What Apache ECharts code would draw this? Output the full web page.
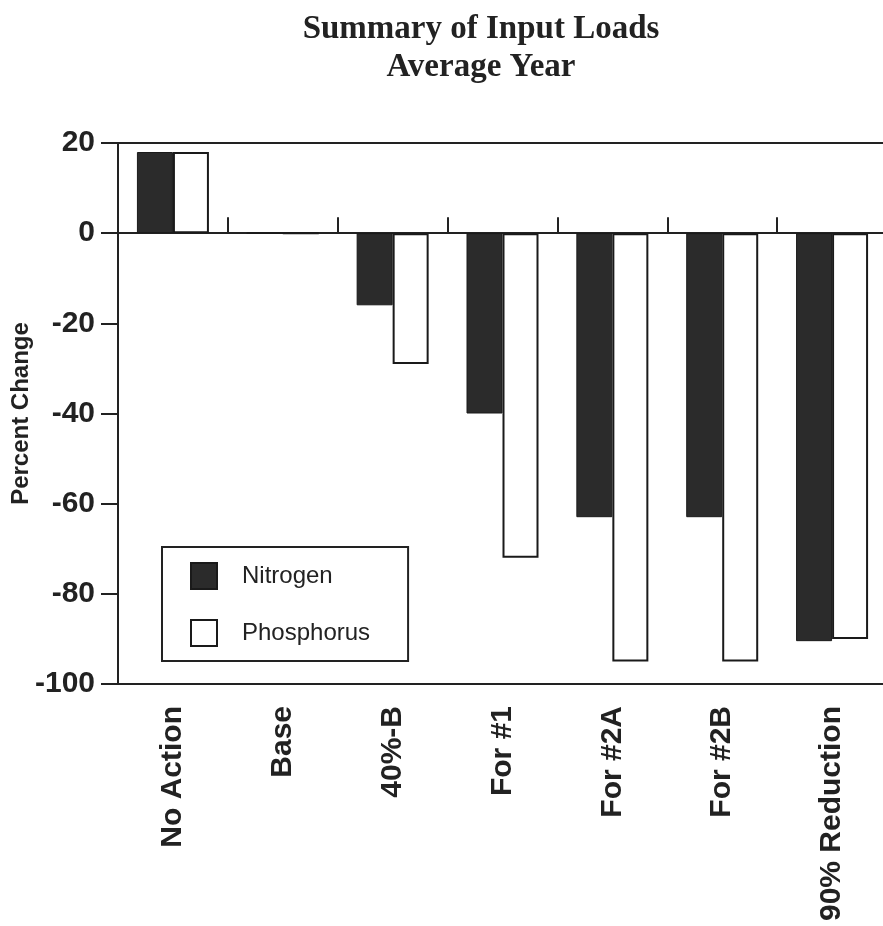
<!DOCTYPE html>
<html>
<head>
<meta charset="utf-8">
<script src="https://cdn.jsdelivr.net/npm/echarts@6/dist/echarts.min.js"></script>
<style>
html,body{margin:0;padding:0;background:#fff;}
#chart{width:883px;height:926px;}
</style>
</head>
<body>
<div id="chart"></div>
<script>
var categories = ['No Action', 'Base', '40%-B', 'For #1', 'For #2A', 'For #2B', '90% Reduction'];
var nitrogen = [18, 0, -16, -40, -63, -63, -90.5];
var phosphorus = [18, 0, -29, -72, -95, -95, -90];
var yTicks = {min: -100, max: 20, interval: 20};

var chart = echarts.init(document.getElementById('chart'), null, {renderer: 'canvas'});
var ink = '#222';
var sans = 'Liberation Sans, Arial, Helvetica, sans-serif';

chart.setOption({
  backgroundColor: '#fff',
  animation: false,
  title: {
    text: 'Summary of Input Loads\nAverage Year',
    left: 476,
    top: 5,
    textAlign: 'center',
    textStyle: {
      fontFamily: 'Liberation Serif, Times New Roman, serif',
      fontWeight: 'bold',
      fontSize: 33,
      lineHeight: 38,
      color: ink
    }
  },
  legend: {
    orient: 'vertical',
    left: 162,
    top: 547,
    borderColor: ink,
    borderWidth: 2,
    padding: [15, 38, 14, 28],
    itemWidth: 26,
    itemHeight: 26,
    itemGap: 29,
    icon: 'rect',
    textStyle: {
      fontFamily: sans,
      fontSize: 24,
      color: ink,
      padding: [0, 0, 0, 20]
    },
    data: ['Nitrogen', 'Phosphorus']
  },
  grid: {
    left: 118,
    top: 143,
    width: 769,
    bottom: 242,
    containLabel: false,
    outerBoundsMode: 'none'
  },
  xAxis: [
    {
      type: 'category',
      data: categories,
      position: 'bottom',
      axisLine: {show: true, onZero: true, lineStyle: {color: ink, width: 2}},
      axisTick: {show: true, inside: true, length: 16, lineStyle: {color: ink, width: 2}},
      axisLabel: {show: false},
      splitLine: {show: false}
    },
    {
      type: 'category',
      data: categories,
      position: 'bottom',
      axisLine: {show: true, onZero: false, lineStyle: {color: ink, width: 2}},
      axisTick: {show: false},
      axisLabel: {
        show: true,
        rotate: 90,
        margin: 22,
        fontFamily: sans,
        fontWeight: 'bold',
        fontSize: 30,
        color: ink,
        interval: 0
      },
      splitLine: {show: false}
    },
    {
      type: 'category',
      data: categories,
      position: 'top',
      axisLine: {show: true, onZero: false, lineStyle: {color: ink, width: 2}},
      axisTick: {show: false},
      axisLabel: {show: false},
      splitLine: {show: false}
    }
  ],
  yAxis: {
    type: 'value',
    min: yTicks.min,
    max: yTicks.max,
    interval: yTicks.interval,
    name: 'Percent Change',
    nameLocation: 'middle',
    nameGap: 85,
    nameMoveOverlap: false,
    nameTextStyle: {fontFamily: sans, fontWeight: 'bold', fontSize: 24, color: ink},
    axisLine: {show: true, lineStyle: {color: ink, width: 2}},
    axisTick: {show: true, length: 17, lineStyle: {color: ink, width: 2}},
    axisLabel: {margin: 23, fontFamily: sans, fontWeight: 'bold', fontSize: 30, color: ink},
    splitLine: {show: false}
  },
  series: [
    {
      name: 'Nitrogen',
      type: 'bar',
      xAxisIndex: 0,
      data: nitrogen,
      barWidth: 36,
      barGap: '0%',
      itemStyle: {color: '#2b2b2b', borderColor: '#1a1a1a', borderWidth: 1}
    },
    {
      name: 'Phosphorus',
      type: 'bar',
      xAxisIndex: 0,
      data: phosphorus,
      barWidth: 36,
      barGap: '0%',
      itemStyle: {color: '#ffffff', borderColor: '#1a1a1a', borderWidth: 2}
    }
  ]
});
</script>
</body>
</html>
